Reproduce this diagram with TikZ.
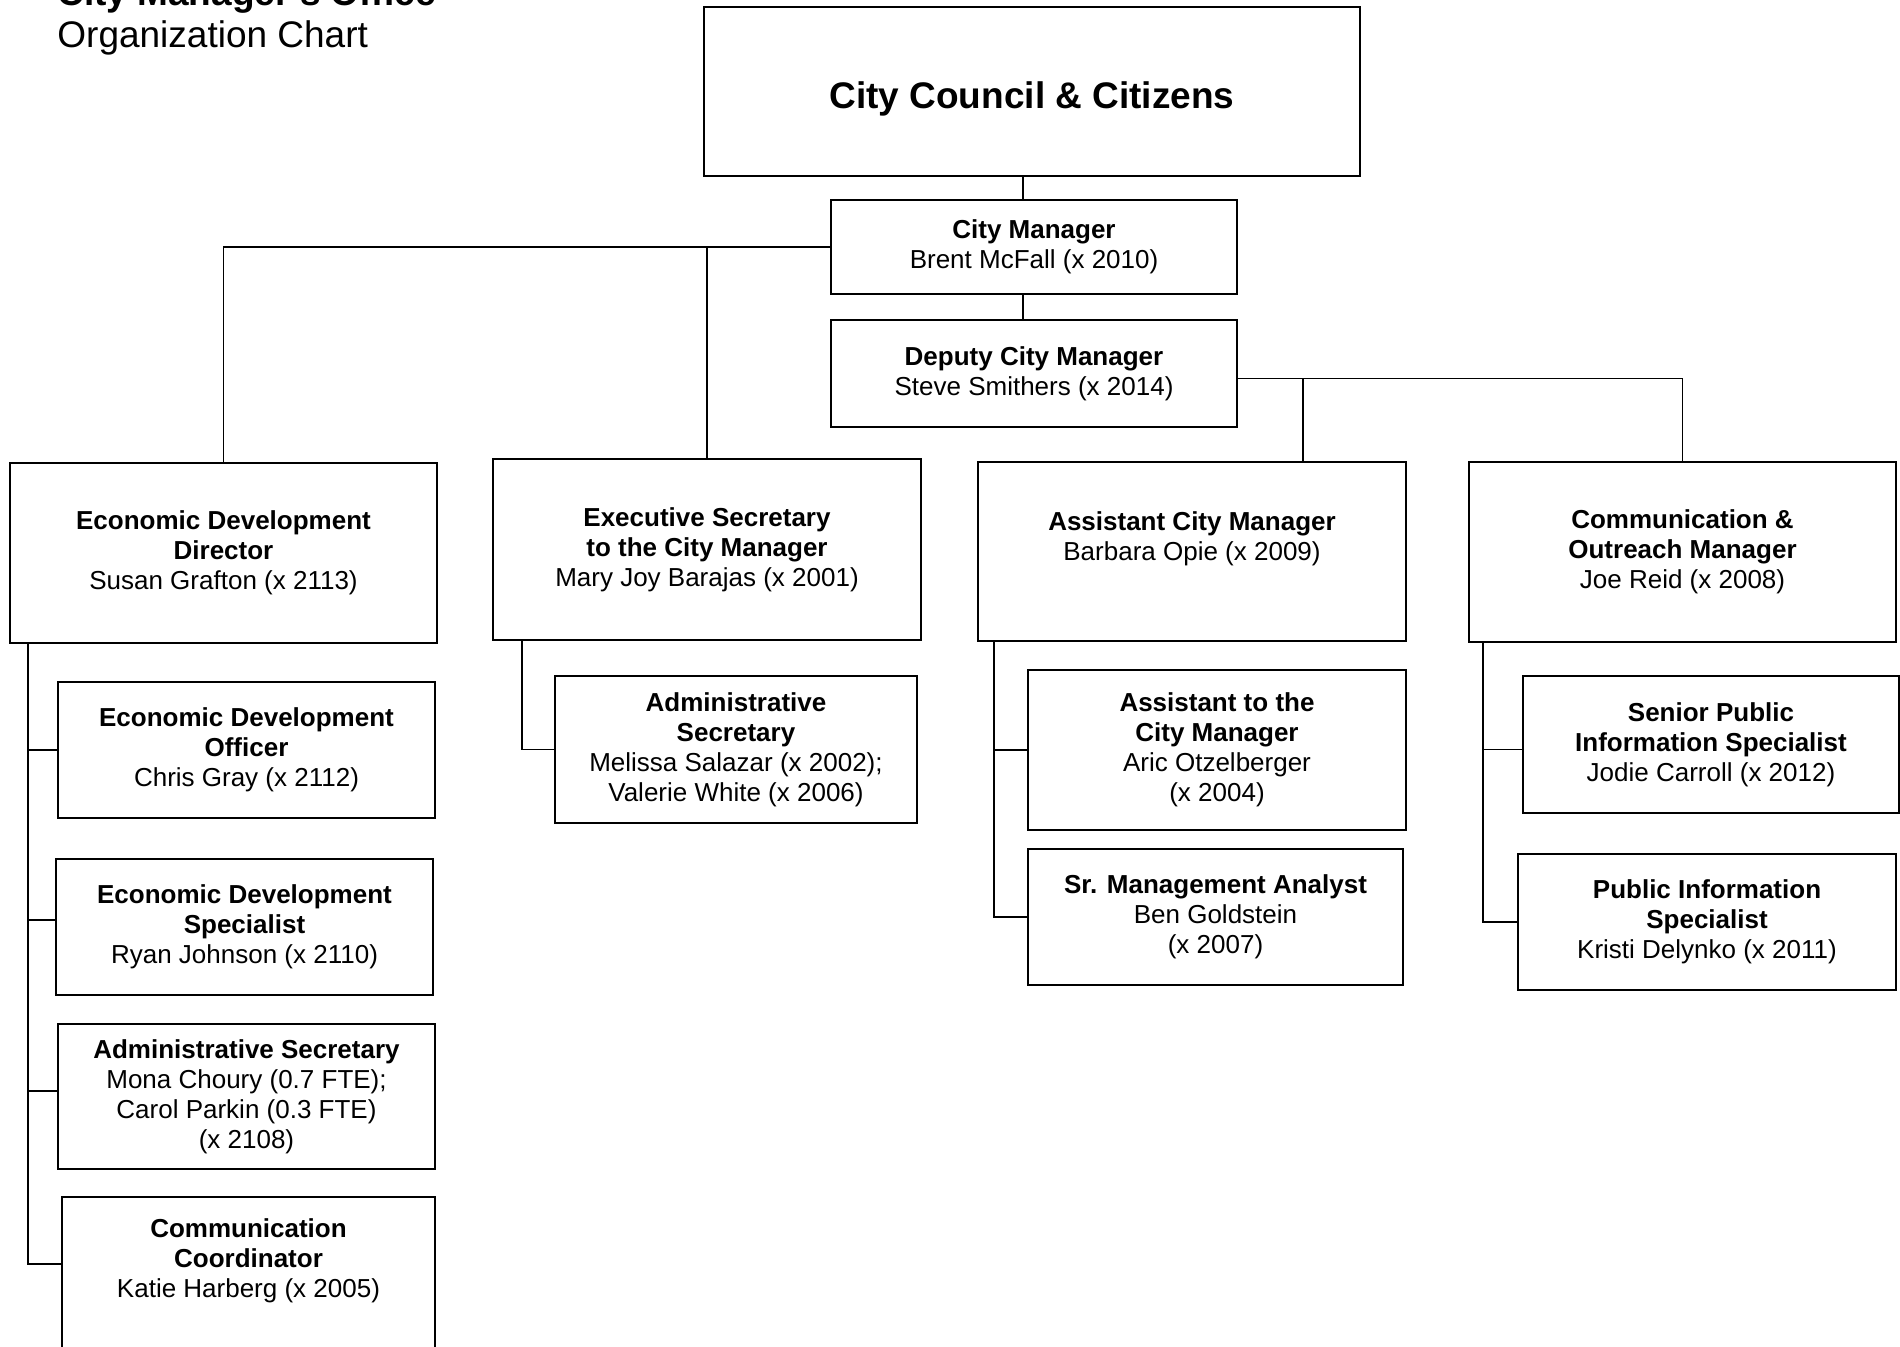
\documentclass[tikz,border=0pt]{standalone}
\usepackage{fontspec}
\setmainfont{Liberation Sans}
\usepackage{tikz}

\tikzset{
  post/.style 2 args={draw, line width=0.8pt, inner sep=0pt, outer sep=0pt,
    minimum width=#1, minimum height=#2, align=center,
    font=\fontsize{13}{15}\selectfont},
  wire/.style={line width=0.8pt}
}

\begin{document}
\begin{tikzpicture}[x=0.5pt,y=-0.5pt]
\useasboundingbox (0,0) rectangle (1900,1346);
\clip (0,0) rectangle (1900,1346);
\fill[white] (0,0) rectangle (1900,1346);
%% title
\node[anchor=base west, inner sep=0pt, font=\fontsize{18.5}{21}\selectfont\bfseries] (ttl) at (57,5) {City Manager's Office};
\node[anchor=base west, inner sep=0pt, font=\fontsize{18.5}{21}\selectfont] (sub) at (57,47) {Organization Chart};

%% top
\node[post={328pt}{84.5pt}, font=\fontsize{18.5}{21}\selectfont\bfseries] (cc) at (1032,91.5) {\raisebox{-8.7pt}[0pt][0pt]{City Council \& Citizens}};
\node[post={203pt}{47pt}] (cm) at (1034,247) {\textbf{City Manager}\\Brent McFall (x 2010)};
\node[post={203pt}{53.5pt}] (dcm) at (1034,373.5) {\textbf{Deputy City Manager}\\Steve Smithers (x 2014)};

%% second row
\node[post={213.5pt}{90pt}] (ed) at (223.5,553) {\textbf{Economic Development}\\\textbf{Director}\\Susan Grafton (x 2113)};
\node[post={214pt}{90.5pt}] (exec) at (707,549.5) {\textbf{Executive Secretary}\\\textbf{to the City Manager}\\Mary Joy Barajas (x 2001)};
\node[post={214pt}{89.5pt}] (acm) at (1192,551.5) {\textbf{Assistant City Manager}\\Barbara Opie (x 2009)\\\mbox{}};
\node[post={213.5pt}{90pt}] (comm) at (1682.5,552) {\textbf{Communication \&}\\\textbf{Outreach Manager}\\Joe Reid (x 2008)};

%% economic development staff
\node[post={188.5pt}{68pt}] (edo) at (246.5,750) {\textbf{Economic Development}\\\textbf{Officer}\\Chris Gray (x 2112)};
\node[post={188.5pt}{68pt}] (eds) at (244.5,927) {\textbf{Economic Development}\\\textbf{Specialist}\\Ryan Johnson (x 2110)};
\node[post={188.5pt}{72.5pt}] (eas) at (246.5,1096.5) {\textbf{Administrative Secretary}\\Mona Choury (0.7 FTE);\\Carol Parkin (0.3 FTE)\\(x 2108)};
\node[post={186.5pt}{76.5pt}] (ecc) at (248.5,1273.5) {\textbf{Communication}\\\textbf{Coordinator}\\Katie Harberg (x 2005)\\\mbox{}};

%% other staff
\node[post={181pt}{73.5pt}] (xas) at (736,749.5) {\textbf{Administrative}\\\textbf{Secretary}\\Melissa Salazar (x 2002);\\Valerie White (x 2006)};
\node[post={189pt}{80pt}] (atc) at (1217,750) {\textbf{Assistant to the}\\\textbf{City Manager}\\Aric Otzelberger\\(x 2004)};
\node[post={187.5pt}{68pt}] (sma) at (1215.5,917) {\textbf{Sr. Management Analyst}\\Ben Goldstein\\(x 2007)};
\node[post={188pt}{68.5pt}] (spis) at (1711,744.5) {\textbf{Senior Public}\\\textbf{Information Specialist}\\Jodie Carroll (x 2012)};
\node[post={189pt}{68pt}] (pis) at (1707,922) {\textbf{Public Information}\\\textbf{Specialist}\\Kristi Delynko (x 2011)};

%% lines
\draw[wire] ([xshift=-5.5pt]cm.north) -- ([xshift=-5.5pt]cm.north |- cc.south);
\draw[wire] ([xshift=-5.5pt]cm.south) -- ([xshift=-5.5pt]cm.south |- dcm.north);
\draw[wire] (cm.west) -| (ed.north);
\draw[wire] (exec.north) -- (exec.north |- cm.west);
\coordinate (dout) at ([yshift=-2.5pt]dcm.east);
\draw[wire] (dout) -| (comm.north);
\draw[wire] ([xshift=55.5pt]acm.north) -- ([xshift=55.5pt]acm.north |- dout);

\coordinate (edbus) at (28,0);
\coordinate (xbus) at (522,0);
\coordinate (abus) at (994,0);
\coordinate (cbus) at (1483,0);

\draw[wire] (ed.south -| edbus) |- ([yshift=4.75pt]ecc.west);
\draw[wire] (edbus |- edo.west) -- (edo.west);
\draw[wire] (edbus |- eds.west) ++(0,-7) -- ([yshift=3.5pt]eds.west);
\draw[wire] (edbus |- eas.west) ++(0,-5.5) -- ([yshift=2.75pt]eas.west);
\draw[wire] (exec.south -| xbus) |- (xas.west);
\draw[wire] (acm.south -| abus) |- (sma.west);
\draw[wire] (abus |- atc.west) -- (atc.west);
\draw[wire] (comm.south -| cbus) |- (pis.west);
\draw[wire] (cbus |- spis.west) ++(0,5) -- ([yshift=-2.5pt]spis.west);

\end{tikzpicture}
\end{document}
